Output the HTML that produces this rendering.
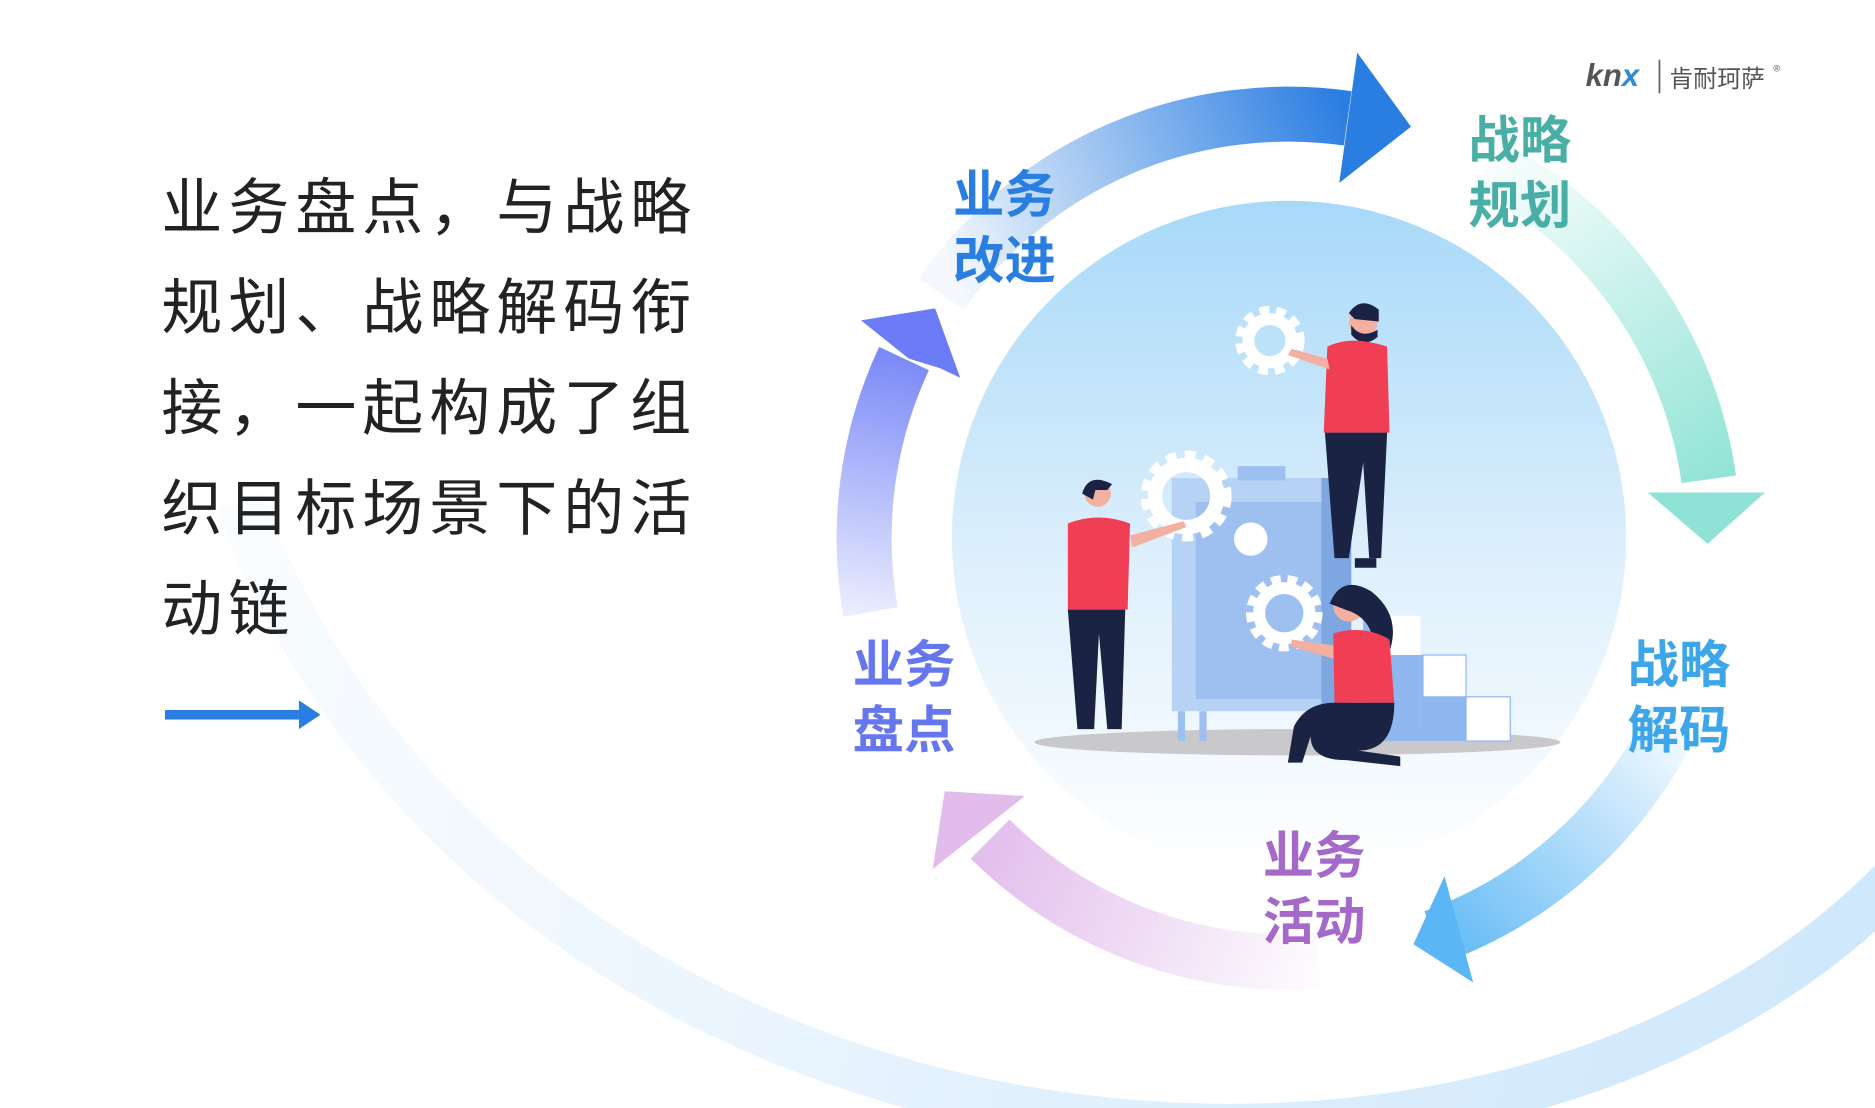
<!DOCTYPE html>
<html><head><meta charset="utf-8"><style>
html,body{margin:0;padding:0;background:#fff;}
svg{display:block;}
</style></head><body>
<svg width="1875" height="1108" viewBox="0 0 1568 927" preserveAspectRatio="none" xmlns="http://www.w3.org/2000/svg" font-family="'Liberation Sans','Noto Sans CJK SC',sans-serif">
<defs>
<linearGradient id="bg" gradientUnits="userSpaceOnUse" x1="200" y1="420" x2="1568" y2="740">
<stop offset="0" stop-color="#eaf5fe" stop-opacity="0.3"/><stop offset="0.5" stop-color="#e3f1fd"/><stop offset="1" stop-color="#cfe8fb"/></linearGradient>
<linearGradient id="circ" x1="0" y1="0" x2="0" y2="1">
<stop offset="0" stop-color="#a8d9f9"/><stop offset="0.55" stop-color="#dff0fc"/><stop offset="1" stop-color="#ffffff"/></linearGradient>
<linearGradient id="gTop" gradientUnits="userSpaceOnUse" x1="800" y1="240" x2="1130" y2="100"><stop offset="0" stop-color="#2a7de1" stop-opacity="0.05"/><stop offset="1" stop-color="#2a7de1"/></linearGradient>
<linearGradient id="gRight" gradientUnits="userSpaceOnUse" x1="1244" y1="137" x2="1429" y2="420"><stop offset="0" stop-color="#8ee3d6" stop-opacity="0.05"/><stop offset="1" stop-color="#8ee3d6"/></linearGradient>
<linearGradient id="gBR" gradientUnits="userSpaceOnUse" x1="1400" y1="600" x2="1190" y2="800"><stop offset="0" stop-color="#5ab6f5" stop-opacity="0.05"/><stop offset="1" stop-color="#5ab6f5"/></linearGradient>
<linearGradient id="gPur" gradientUnits="userSpaceOnUse" x1="1103" y1="810" x2="820" y2="700"><stop offset="0" stop-color="#e2bdec" stop-opacity="0.05"/><stop offset="1" stop-color="#e2bdec"/></linearGradient>
<linearGradient id="gLeft" gradientUnits="userSpaceOnUse" x1="720" y1="540" x2="770" y2="270"><stop offset="0" stop-color="#6b7cf6" stop-opacity="0.05"/><stop offset="1" stop-color="#6b7cf6"/></linearGradient>
</defs>

<path d="M 200 420 C 420 1000, 1250 1090, 1590 730" fill="none" stroke="url(#bg)" stroke-width="40"/>

<circle cx="1078" cy="450" r="282" fill="url(#circ)"/>

<!-- arrows -->
<path d="M 787 246 A 355 355 0 0 1 1127 99" fill="none" stroke="url(#gTop)" stroke-width="46"/>
<polygon points="1120,153 1135,44 1180,106" fill="#2a7de1"/>
<path d="M 1244 137 A 355 355 0 0 1 1429 401" fill="none" stroke="url(#gRight)" stroke-width="46"/>
<polygon points="1378,412 1476,412 1428,455" fill="#8ee3d6"/>
<path d="M 1400 600 A 355 355 0 0 1 1199 784" fill="none" stroke="url(#gBR)" stroke-width="46"/>
<polygon points="1208,733 1232,822 1182,790" fill="#5ab6f5"/>
<path d="M 1103 804 A 355 355 0 0 1 828 702" fill="none" stroke="url(#gPur)" stroke-width="46"/>
<polygon points="790,662 857,666 780,727" fill="#e2bdec"/>
<path d="M 728 512 A 355 355 0 0 1 756 300" fill="none" stroke="url(#gLeft)" stroke-width="46"/>
<polygon points="782,258 803,316 786,308 760,300 720,268" fill="#6b7cf6"/>

<!-- illustration -->
<ellipse cx="1085" cy="621" rx="220" ry="11" fill="#c9c9cc"/>
<rect x="980" y="400" width="150" height="195" fill="#b6d3f6"/>
<rect x="1000" y="420" width="105" height="165" fill="#9dc0f0"/>
<rect x="1105" y="400" width="25" height="195" fill="#7ea6e0"/>
<rect x="1035" y="390" width="40" height="12" fill="#9dc0f0"/>
<rect x="985" y="595" width="6" height="25" fill="#9dc0f0"/><rect x="1003" y="595" width="6" height="25" fill="#9dc0f0"/>
<circle cx="1046" cy="451" r="14" fill="#fff"/>
<rect x="1140" y="515" width="48" height="105" fill="#8eb6ef"/>
<rect x="1188" y="548" width="38" height="72" fill="#8eb6ef"/>
<rect x="1226" y="583" width="37" height="37" fill="#8eb6ef"/>
<rect x="1160" y="515" width="28" height="33" fill="#fff"/><rect x="1190" y="548" width="36" height="35" fill="#fff" stroke="#8eb6ef"/><rect x="1226" y="583" width="37" height="37" fill="#fff" stroke="#8eb6ef"/>
<!-- gears -->
<g fill="none" stroke="#fff"><circle cx="1062" cy="285" r="22" stroke-width="14" stroke-dasharray="7 5"/><circle cx="1062" cy="285" r="18" stroke-width="10"/>
<circle cx="992" cy="415" r="30" stroke-width="16" stroke-dasharray="8 6"/><circle cx="992" cy="415" r="26" stroke-width="12"/>
<circle cx="1074" cy="513" r="25" stroke-width="14" stroke-dasharray="7 5"/><circle cx="1074" cy="513" r="21" stroke-width="10"/></g>
<!-- man top -->
<circle cx="1140" cy="270" r="12" fill="#f2b0a0"/><path d="M1128 262 q10 -15 25 -3 l0 10 l-20 -2z" fill="#1b2344"/><path d="M1130 272 q8 12 22 4 l0 6 q-12 10 -22 -2z" fill="#1b2344"/>
<path d="M1110 290 q20 -10 50 0 l2 72 l-55 0z" fill="#f03e55"/>
<path d="M1110 300 l-30 -8 l-3 5 l35 12z" fill="#f2b0a0"/>
<path d="M1108 362 l52 0 l-5 105 l-10 0 l-5 -80 l-12 80 l-12 0z" fill="#1b2344"/>
<rect x="1133" y="467" width="18" height="8" fill="#1b2344"/>
<!-- man left -->
<circle cx="918" cy="413" r="11" fill="#f2b0a0"/><path d="M905 413 q5 -18 25 -8 l-4 5 l-10 0 l-2 8z" fill="#1b2344"/>
<path d="M893 438 q25 -10 52 0 l-2 72 l-50 0z" fill="#f03e55"/>
<path d="M945 448 l45 -12 l2 5 l-45 17z" fill="#f2b0a0"/>
<path d="M893 510 l48 0 l-3 100 l-12 0 l-7 -80 l-4 80 l-14 0z" fill="#1b2344"/>
<!-- woman -->
<circle cx="1128" cy="507" r="13" fill="#f2b0a0"/><path d="M1112 505 q10 -25 35 -10 q25 20 15 50 l-15 -15 q-5 -15 -22 -20z" fill="#1b2344"/>
<path d="M1115 530 q25 -8 47 5 l4 53 l-50 0z" fill="#f03e55"/>
<path d="M1115 540 l-35 -5 l0 6 l35 10z" fill="#f2b0a0"/>
<path d="M1116 588 l50 0 q0 40 -30 40 l35 5 l0 8 l-45 -5 q-30 0 -30 -20 l-7 22 l-12 0 l5 -30 q10 -20 34 -20z" fill="#1b2344"/>

<!-- labels -->
<g font-weight="bold" font-size="43">
<text x="797" y="178" fill="#2a7de1">业务</text><text x="797" y="233" fill="#2a7de1">改进</text>
<text x="1228" y="132" fill="#48aea6">战略</text><text x="1228" y="187" fill="#48aea6">规划</text>
<text x="1361" y="571" fill="#3da6ea">战略</text><text x="1361" y="626" fill="#3da6ea">解码</text>
<text x="1056" y="731" fill="#a469c9">业务</text><text x="1056" y="786" fill="#a469c9">活动</text>
<text x="713" y="571" fill="#6677ee">业务</text><text x="713" y="626" fill="#6677ee">盘点</text>
</g>

<!-- left text -->
<g font-size="51" fill="#222" letter-spacing="5">
<text x="135" y="191">业务盘点，与战略</text>
<text x="135" y="275">规划、战略解码衔</text>
<text x="135" y="359">接，一起构成了组</text>
<text x="135" y="443">织目标场景下的活</text>
<text x="135" y="527">动链</text>
</g>
<rect x="138" y="594" width="112" height="8" fill="#2a7de1"/>
<polygon points="250,586 268,598 250,610" fill="#2a7de1"/>

<!-- logo -->
<text x="1326" y="72" font-size="26" font-style="italic" font-weight="bold" fill="#555">kn<tspan fill="#2b8bd6">x</tspan></text>
<rect x="1387" y="50" width="1.5" height="28" fill="#666"/>
<text x="1396" y="73" font-size="20" fill="#555">肯耐珂萨</text>
<text x="1483" y="60" font-size="8" fill="#555">®</text>
</svg>
</body></html>
